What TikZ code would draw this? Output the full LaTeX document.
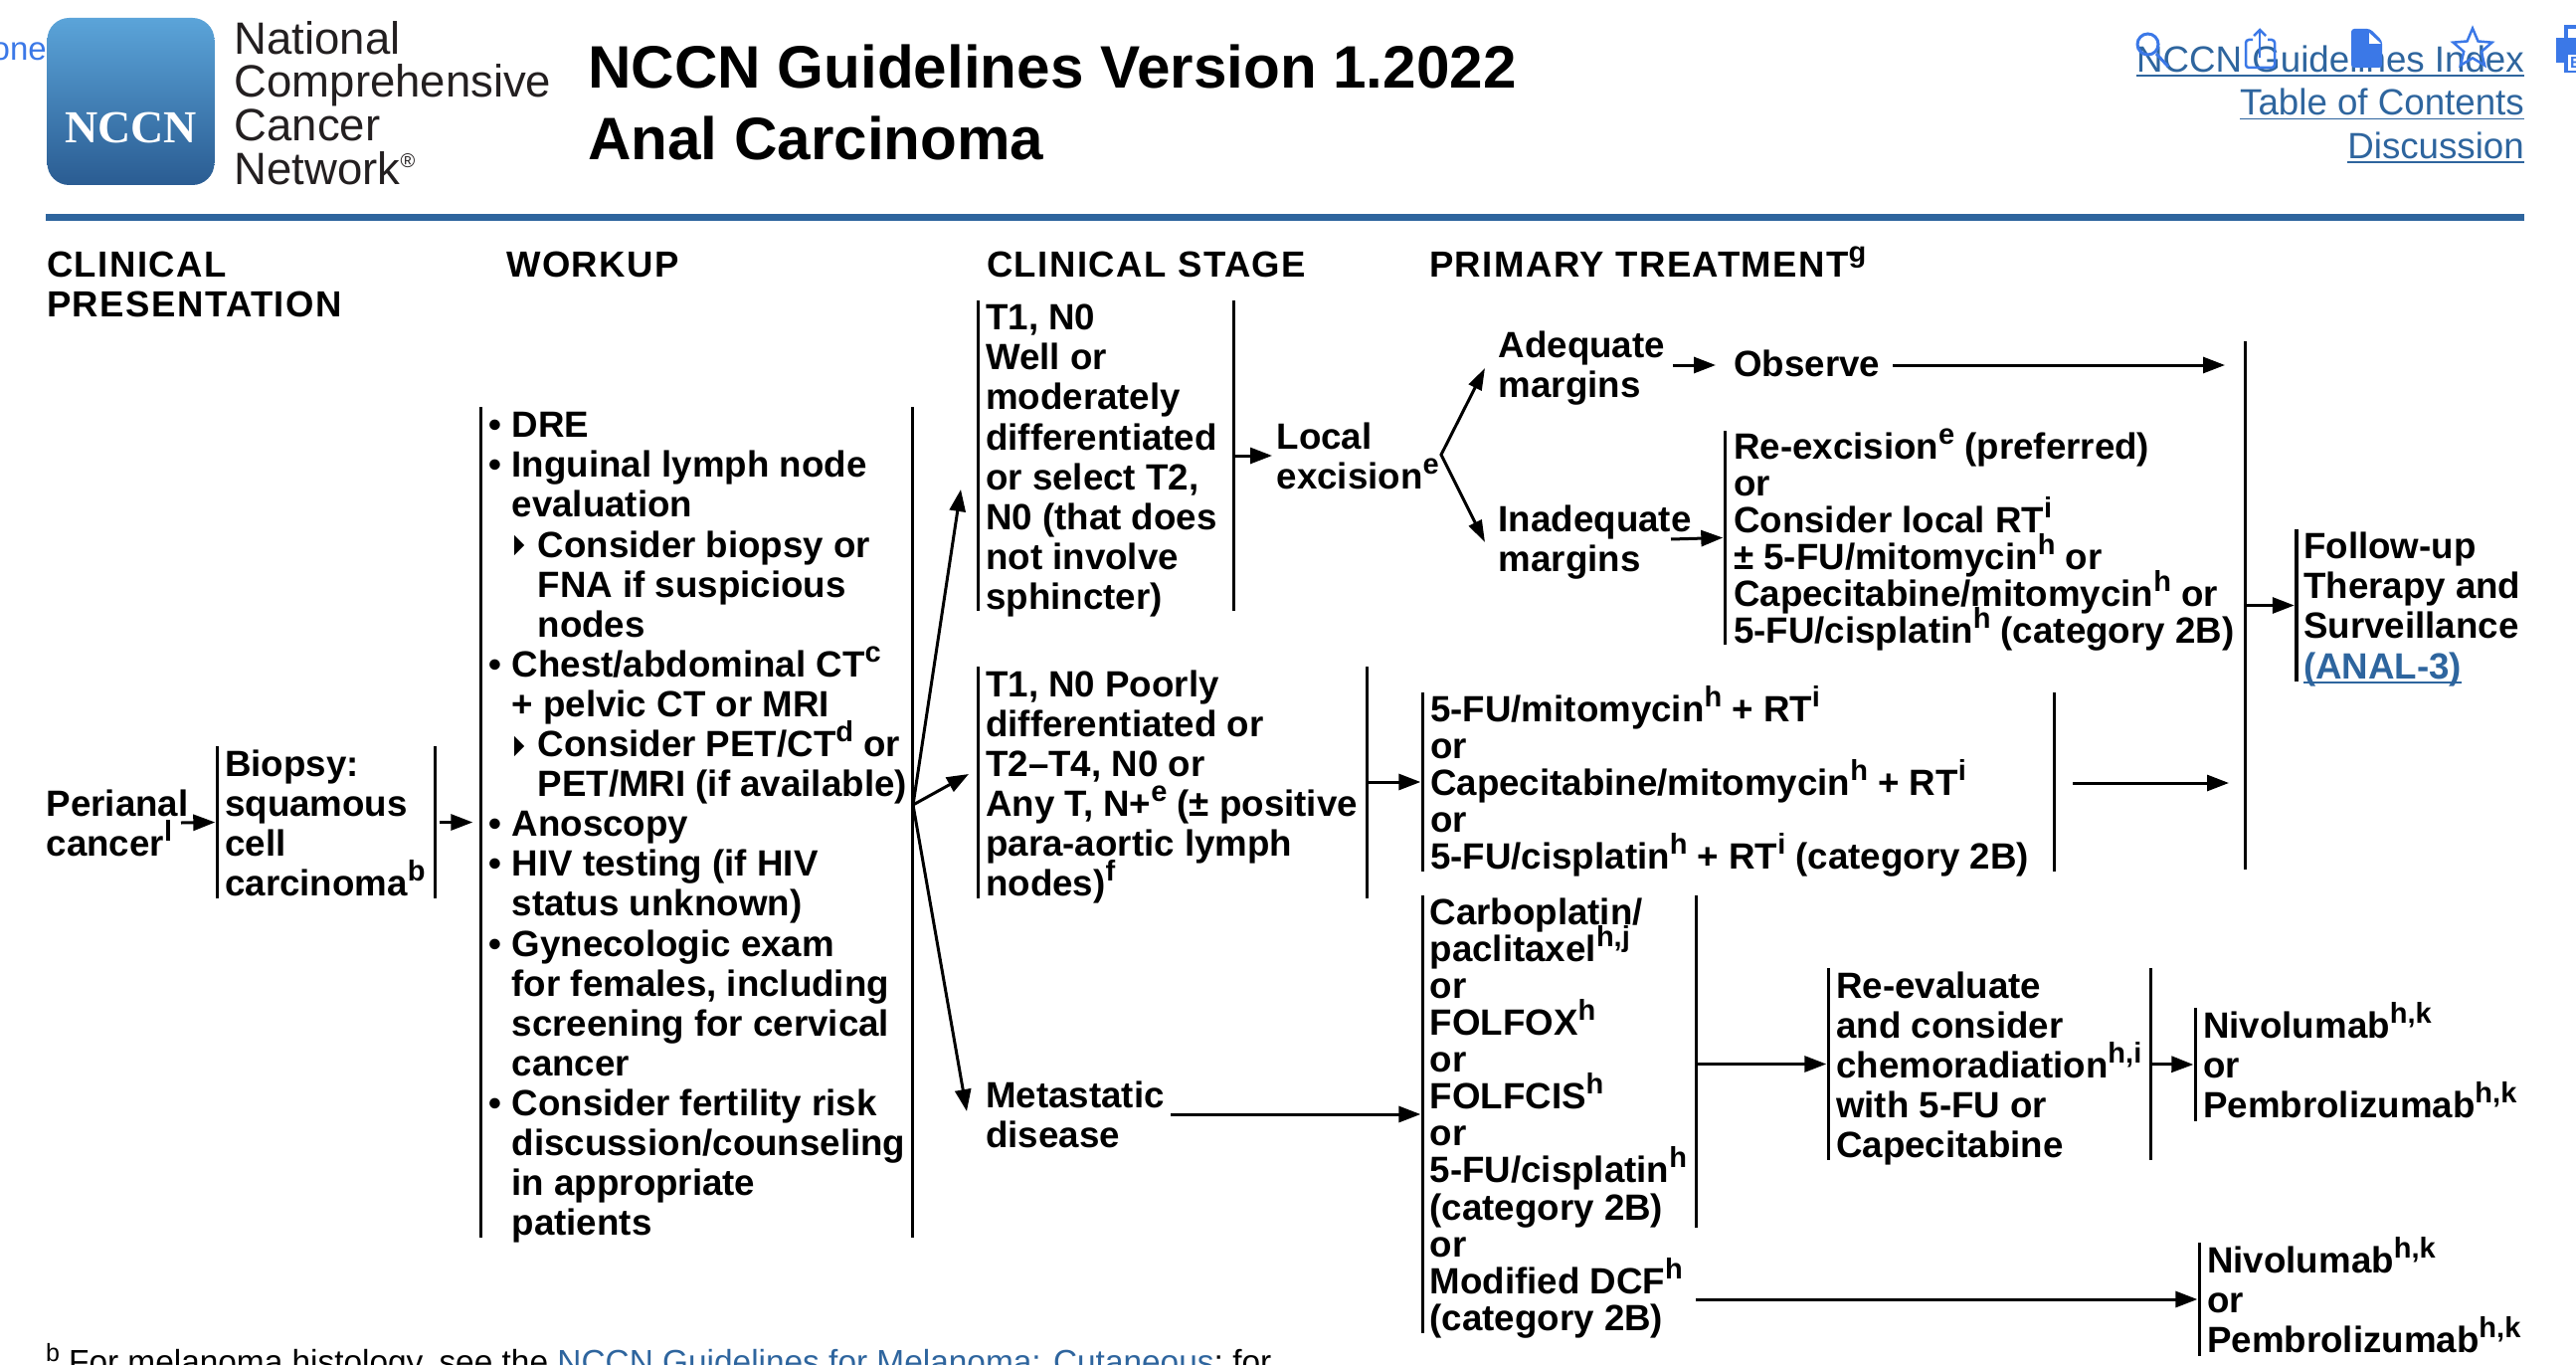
\documentclass[tikz,border=0pt]{standalone}
\usepackage{fontspec}
\usepackage{graphicx}
\usetikzlibrary{arrows.meta,shapes.geometric}
\setmainfont{Liberation Sans}[Ligatures=NoCommon]
\newfontfamily\logoserif{Liberation Serif}
\definecolor{nccnblue}{HTML}{2E659E}
\definecolor{uiblue}{HTML}{3B78E7}
\definecolor{logotext}{HTML}{231F20}
\definecolor{logotop}{HTML}{5BA4D9}
\definecolor{logobottom}{HTML}{2A5C92}
\lineskiplimit=-1000pt
\lineskip=0pt
\newcommand\bodyfont{\fontsize{36.7}{40.1}\selectfont\bfseries}
\newcommand\tightfont{\fontsize{36.7}{37.1}\selectfont\bfseries}
\newcommand\headfont{\fontsize{36.5}{40}\selectfont\bfseries\addfontfeature{LetterSpace=4}}
\newcommand\logofont{\fontsize{45.5}{43.7}\selectfont}
\newcommand\linkfont{\fontsize{36.7}{43.5}\selectfont}
\newcommand\T{\rule{0pt}{30pt}}
\newcommand\su[1]{\smash{\raisebox{15pt}{\fontsize{29}{29}\selectfont #1}}}
\newcommand\ulk[1]{\leavevmode\vtop{\hbox{\smash{#1}}\kern3pt\hrule height1.7pt}}
\newcommand\bul{\makebox[23pt][l]{\textbullet}}
\newcommand\ind{\hspace*{23pt}}
\newcommand\sub{\hspace*{49pt}}
\tikzset{
  x=1pt,y=-1pt,
  txt/.style={anchor=north west,inner sep=0pt,align=left,font=\bodyfont},
  tighttxt/.style={txt,font=\tightfont},
  headtxt/.style={txt,font=\headfont},
  vbar/.style={fill=black,inner sep=0pt,minimum width=3pt,text width=0pt},
  arr/.style={line width=3pt,-{Triangle[length=22pt,width=16pt]}},
  uiline/.style={draw=uiblue,line width=3pt},
}
\begin{document}
\begin{tikzpicture}
\clip (0,0) rectangle (2590,1372);
\fill[white] (0,0) rectangle (2590,1372);

% Masthead
\node[anchor=base east,inner sep=0pt,text=uiblue,font=\fontsize{33}{36}\selectfont] (tabname) at (47,61) {one};
\node[inner sep=0pt,minimum width=168pt,minimum height=168pt,rounded corners=22pt,top color=logotop,bottom color=logobottom] (logo) at (131.5,102) {};
\node[anchor=base west,inner sep=0pt,text=white,font=\logoserif\fontsize{46}{46}\selectfont\bfseries] (logoname) at (65,143.5) {NCCN};
\node[anchor=north west,inner sep=0pt,align=left,text=logotext,font=\logofont] (logotitle) at (235.5,21)
  {\rule{0pt}{31pt}National\\Comprehensive\\Cancer\\Network\smash{\raisebox{17pt}{\fontsize{20}{20}\selectfont\textregistered}}};
\node[anchor=base west,inner sep=0pt,font=\fontsize{60.2}{60}\selectfont\bfseries] (titleA) at (591,88.5) {NCCN Guidelines Version 1.2022};
\node[anchor=base west,inner sep=0pt,font=\fontsize{60.2}{60}\selectfont\bfseries] (titleB) at (591,161) {Anal Carcinoma};
\node[anchor=north east,inner sep=0pt,align=right,text=nccnblue,font=\linkfont] (links) at (2538,42)
  {\T\ulk{NCCN Guidelines Index}\\\ulk{Table of Contents}\\\ulk{Discussion}};
\node[fill=nccnblue,inner sep=0pt,minimum width=2492pt,minimum height=7pt] (rule) at (1292,218.5) {};

% Column headings
\node[headtxt] (hPres) at (47,248) {\T CLINICAL\\PRESENTATION};
\node[headtxt] (hWork) at (509,248) {\T WORKUP};
\node[headtxt] (hStage) at (992,248) {\T CLINICAL STAGE};
\node[headtxt] (hTreat) at (1437,248) {\T PRIMARY TREATMENT\su{g}};

% Presentation and workup
\node[txt] (perianal) at (46.5,790.5) {\T Perianal\\cancer\su{l}};
\node[txt] (biopsy) at (226,750) {\T Biopsy:\\squamous\\cell\\carcinoma\su{b}};
\node[vbar,minimum height=153pt] (barBL) at (218,826.5) {};
\node[vbar,minimum height=153pt] (barBR) at (437,826.5) {};
\node[txt] (workup) at (491.5,409.5) {\T\bul DRE\\
  \bul Inguinal lymph node\\
  \ind evaluation\\
  \sub Consider biopsy or\\
  \sub FNA if suspicious\\
  \sub nodes\\
  \bul Chest/abdominal CT\su{c}\\
  \ind + pelvic CT or MRI\\
  \sub Consider PET/CT\su{d} or\\
  \sub PET/MRI (if available)\\
  \bul Anoscopy\\
  \bul HIV testing (if HIV\\
  \ind status unknown)\\
  \bul Gynecologic exam\\
  \ind for females, including\\
  \ind screening for cervical\\
  \ind cancer\\
  \bul Consider fertility risk\\
  \ind discussion/counseling\\
  \ind in appropriate\\
  \ind patients};
\fill (517,538) -- (527,548) -- (517,558) -- cycle;
\fill (517,740) -- (527,750) -- (517,760) -- cycle;
\node[vbar,minimum height=835pt] (barWL) at (483,826.5) {};
\node[vbar,minimum height=835pt] (barWR) at (917,826.5) {};

% Clinical stage
\node[txt] (stageA) at (991,301.5) {\T T1, N0\\Well or\\moderately\\differentiated\\or select T2,\\N0 (that does\\not involve\\sphincter)};
\node[vbar,minimum height=312pt] (barSAL) at (983,458) {};
\node[vbar,minimum height=312pt] (barSAR) at (1240,458) {};
\node[txt] (stageB) at (991,670) {\T T1, N0 Poorly\\differentiated or\\T2–T4, N0 or\\Any T, N+\su{e} (± positive\\para-aortic lymph\\nodes)\su{f}};
\node[vbar,minimum height=233pt] (barSBL) at (983,786) {};
\node[vbar,minimum height=233pt] (barSBR) at (1374,786) {};
\node[txt] (stageC) at (991,1083) {\T Metastatic\\disease};

% Primary treatment: local excision branch
\node[txt] (local) at (1283.5,421) {\T Local\\excision\su{e}};
\node[txt] (adequate) at (1506.5,329) {\T Adequate\\margins};
\node[txt] (inadequate) at (1506.5,504) {\T Inadequate\\margins};
\node[txt] (observe) at (1743,348.5) {\T Observe};
\node[tighttxt] (reexc) at (1743,431) {\T Re-excision\su{e} (preferred)\\or\\Consider local RT\su{i}\\± 5-FU/mitomycin\su{h} or\\Capecitabine/mitomycin\su{h} or\\5-FU/cisplatin\su{h} (category 2B)};
\node[vbar,minimum height=215pt] (barRe) at (1734,540.5) {};

% Primary treatment: chemoradiation branch
\node[tighttxt] (crt) at (1438,695) {\T 5-FU/mitomycin\su{h} + RT\su{i}\\or\\Capecitabine/mitomycin\su{h} + RT\su{i}\\or\\5-FU/cisplatin\su{h} + RT\su{i} (category 2B)};
\node[vbar,minimum height=180pt] (barCL) at (1430,786) {};
\node[vbar,minimum height=180pt] (barCR) at (2065,786) {};

% Follow-up
\node[vbar,minimum height=531pt] (barMain) at (2257,608.5) {};
\node[vbar,minimum height=153pt,minimum width=4pt] (barF) at (2309,608.5) {};
\node[txt] (follow) at (2316,531.5) {\T Follow-up\\Therapy and\\Surveillance\\\textcolor{nccnblue}{\ulk{(ANAL-3)}}};

% Primary treatment: metastatic branch
\node[tighttxt] (chemo) at (1437.5,899) {\T Carboplatin/\\paclitaxel\su{h,j}\\or\\FOLFOX\su{h}\\or\\FOLFCIS\su{h}\\or\\5-FU/cisplatin\su{h}\\(category 2B)\\or\\Modified DCF\su{h}\\(category 2B)};
\node[vbar,minimum height=440pt] (barChL) at (1430,1120) {};
\node[vbar,minimum height=334pt] (barChR) at (1705,1067) {};
\node[txt] (reeval) at (1846,973) {\T Re-evaluate\\and consider\\chemoradiation\su{h,i}\\with 5-FU or\\Capecitabine};
\node[vbar,minimum height=193pt] (barEL) at (1838,1069.5) {};
\node[vbar,minimum height=193pt] (barER) at (2162,1069.5) {};
\node[txt] (ioA) at (2215,1013) {\T Nivolumab\su{h,k}\\or\\Pembrolizumab\su{h,k}};
\node[vbar,minimum height=114pt] (barIA) at (2207,1070) {};
\node[txt] (ioB) at (2219,1249) {\T Nivolumab\su{h,k}\\or\\Pembrolizumab\su{h,k}};
\node[vbar,minimum height=114pt] (barIB) at (2211,1306) {};

% Free ends of the connectors
\coordinate (periOut) at (182,827);
\coordinate (forkW) at (918,809);
\coordinate (tipA) at (966,492);
\coordinate (tipB) at (974,778);
\coordinate (tipC) at (972,1117);
\coordinate (localIn) at (1279,458);
\coordinate (forkL) at (1449,457);
\coordinate (tipAdq) at (1493,370);
\coordinate (tipInad) at (1493,545);
\coordinate (adqOut) at (1682,367);
\coordinate (obsIn) at (1725,367);
\coordinate (obsOut) at (1903,367);
\coordinate (obsTip) at (2237,367);
\coordinate (inadOut) at (1680,542);
\coordinate (crtOut) at (2084,787);
\coordinate (crtTip) at (2241,787);
\coordinate (metaOut) at (1177,1120);
\coordinate (dcfOut) at (1705,1306);

% Connectors
\draw[arr] (periOut) -- (barBL.west);
\draw[arr,shorten <=3pt,shorten >=6pt] (barBR.east) -- (barWL.west);
\draw[arr] (forkW) -- (tipA);
\draw[arr] (forkW) -- (tipB);
\draw[arr] (forkW) -- (tipC);
\draw[arr] (barSAR.east) -- (localIn);
\draw[line width=3pt,line join=miter,{Triangle[length=22pt,width=14pt]}-{Triangle[length=22pt,width=14pt]}] (tipAdq) -- (forkL) -- (tipInad);
\draw[arr] (adqOut) -- (obsIn);
\draw[arr] (obsOut) -- (obsTip);
\draw[arr] (inadOut) -- (barRe.west);
\draw[arr] (barSBR.east) -- (barCL.west);
\draw[arr] (crtOut) -- (crtTip);
\draw[arr] (barMain.east) -- (barF.west);
\draw[arr] (metaOut) -- (barChL.west);
\draw[arr] (barChR.east |- barEL) -- (barEL.west);
\draw[arr] (barER.east) -- (barIA.west);
\draw[arr] (dcfOut) -- (barIB.west);

% Footnote, cut by the lower edge
\node[anchor=base west,inner sep=0pt,font=\fontsize{33.4}{36}\selectfont] (foot) at (46,1380)
  {\raisebox{12pt}{\fontsize{25}{25}\selectfont b}\kern9pt For melanoma histology, see the \textcolor{nccnblue}{NCCN Guidelines for Melanoma: Cutaneous}; for};

% Viewer toolbar icons
\draw[uiline] (2159.5,44.5) circle (10.5pt);
\draw[uiline] (2168,54) -- (2180,67);
\draw[uiline,line width=2.5pt,rounded corners=3pt] (2265,40) -- (2258,40) -- (2258,68) -- (2287,68) -- (2287,40) -- (2280,40);
\draw[uiline,line width=2.5pt] (2272,58) -- (2272,30);
\draw[uiline,line width=2.5pt] (2266,36) -- (2272,30) -- (2278,36);
\fill[uiblue,rounded corners=3pt] (2364,29) -- (2383,29) -- (2395,41) -- (2395,68) -- (2364,68) -- cycle;
\fill[white] (2382,33) -- (2394,44) -- (2382,44) -- cycle;
\node[star,star points=5,star point ratio=2.2,draw=uiblue,line width=2.5pt,inner sep=0pt,minimum size=41pt] (iconStar) at (2486,49) {};
\fill[uiblue] (2570,38) rectangle (2590,63);
\fill[uiblue] (2578,25) rectangle (2590,73);
\fill[white] (2582,29) rectangle (2590,38);
\fill[white] (2582,55) rectangle (2590,71);
\node[anchor=base west,inner sep=0pt,text=uiblue,font=\fontsize{16}{16}\selectfont\bfseries] (iconE) at (2584,69) {E};
\end{tikzpicture}
\end{document}
